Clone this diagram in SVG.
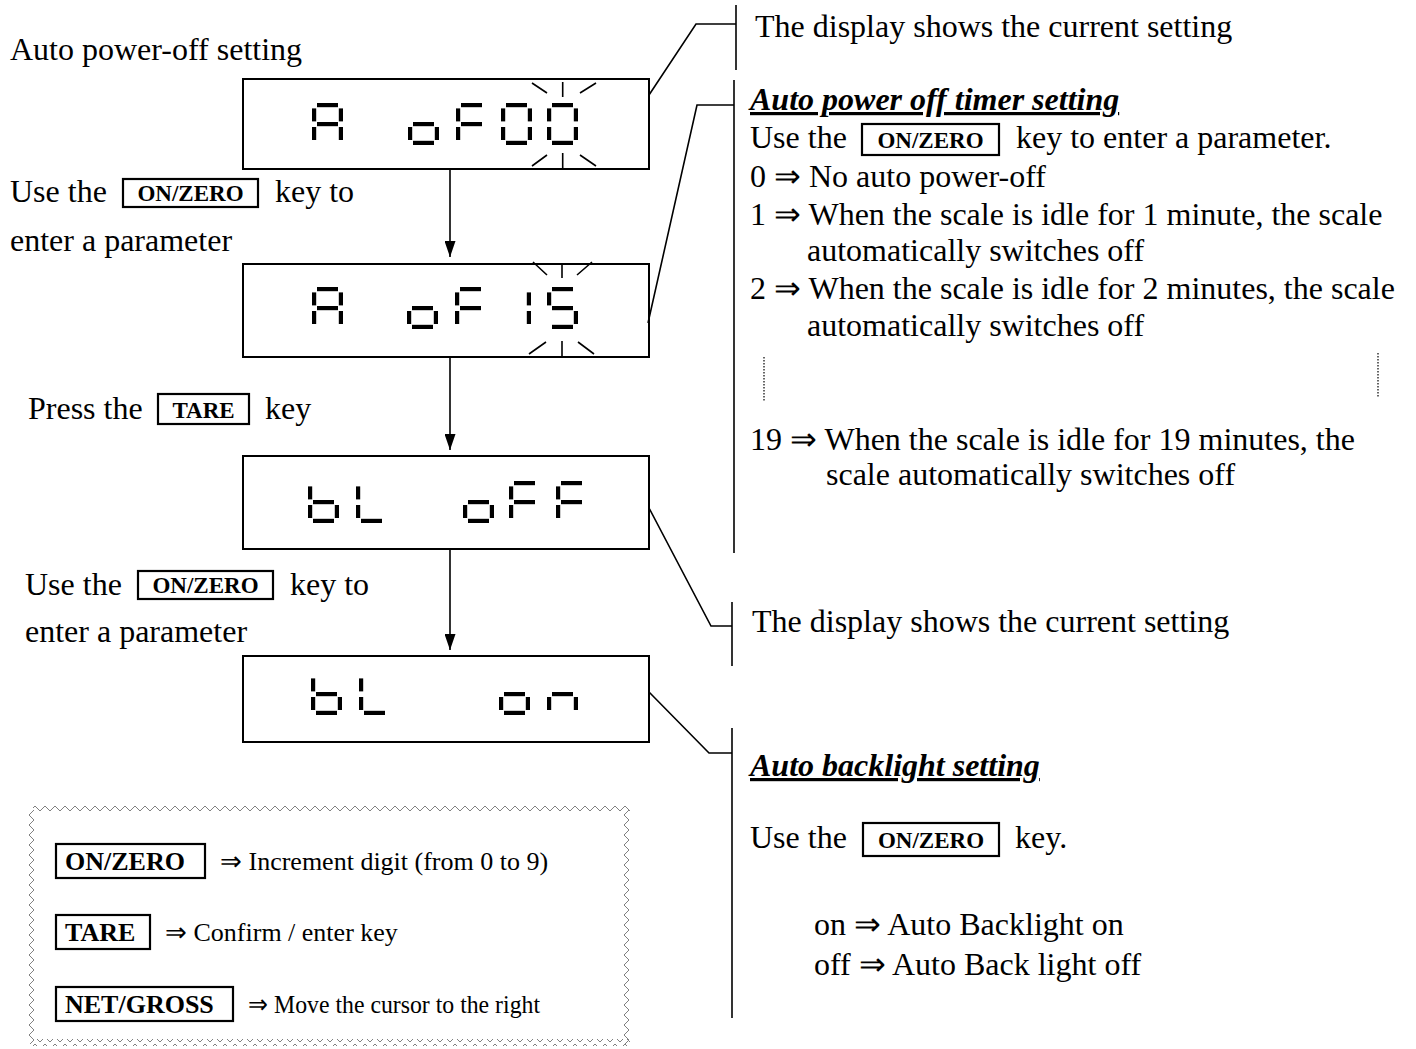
<svg xmlns="http://www.w3.org/2000/svg" xmlns:xlink="http://www.w3.org/1999/xlink" width="1416" height="1049" viewBox="0 0 1416 1049">
<style>
text{font-family:"Liberation Serif","Times New Roman",serif;fill:#000}
.t{font-size:32px}
.k{font-size:23px;font-weight:bold;text-anchor:middle}
.lk{font-size:26px;font-weight:bold}
.ld{font-size:26px}
.h{font-size:32px;font-weight:bold;font-style:italic;text-decoration:underline}
.lcd{fill:#fff;stroke:#000;stroke-width:2}
.kb{fill:#fff;stroke:#000;stroke-width:2.2}
.ray{stroke:#000;stroke-width:1.6;fill:none}
.ln{stroke:#000;stroke-width:1.6;fill:none}
.dot{stroke:#000;stroke-width:1.2;stroke-dasharray:1.5 1.5;fill:none}
</style>
<defs>
<marker id="ah" viewBox="0 0 10 10" refX="10" refY="5" markerWidth="16" markerHeight="11" markerUnits="userSpaceOnUse" orient="auto" preserveAspectRatio="none"><path d="M0,0 L10,5 L0,10 z" fill="#000"/></marker>
<pattern id="zzH" width="10" height="7" patternUnits="userSpaceOnUse"><path d="M0,6 L5,1 L10,6" fill="none" stroke="#808080" stroke-width="1"/></pattern>
<pattern id="zzV" width="7" height="10" patternUnits="userSpaceOnUse"><path d="M6,0 L1,5 L6,10" fill="none" stroke="#808080" stroke-width="1"/></pattern>
<rect id="sa" x="5" y="0" width="21" height="4.2"/>
<rect id="sb" x="26.8" y="5.4" width="4.2" height="13"/>
<rect id="sc" x="26.8" y="24" width="4.2" height="13"/>
<rect id="sd" x="5" y="37.8" width="21" height="4.2"/>
<rect id="se" x="0" y="24" width="4.2" height="13"/>
<rect id="sf" x="0" y="5.4" width="4.2" height="13"/>
<rect id="sg" x="5" y="19" width="21" height="4.2"/>
<g id="gA"><use href="#sa"/><use href="#sb"/><use href="#sc"/><use href="#se"/><use href="#sf"/><use href="#sg"/></g>
<g id="go"><use href="#sc"/><use href="#sd"/><use href="#se"/><use href="#sg"/></g>
<g id="gF"><use href="#sa"/><use href="#se"/><use href="#sf"/><use href="#sg"/></g>
<g id="g0"><use href="#sa"/><use href="#sb"/><use href="#sc"/><use href="#sd"/><use href="#se"/><use href="#sf"/></g>
<g id="g1"><use href="#sb"/><use href="#sc"/></g>
<g id="g5"><use href="#sa"/><use href="#sc"/><use href="#sd"/><use href="#sf"/><use href="#sg"/></g>
<g id="gb"><use href="#sc"/><use href="#sd"/><use href="#se"/><use href="#sf"/><use href="#sg"/></g>
<g id="gL"><use href="#sd"/><use href="#se"/><use href="#sf"/></g>
<g id="gn"><use href="#sc"/><use href="#se"/><use href="#sg"/></g>
</defs>
<rect width="1416" height="1049" fill="#fff"/>

<!-- left texts -->
<g id="lbl-title"><text class="t" x="10" y="60">Auto power-off setting</text></g>
<g id="lbl-step1">
<text class="t" x="10" y="202">Use the</text>
<rect class="kb" x="123" y="179" width="135" height="28"/>
<text class="k" x="190.5" y="201">ON/ZERO</text>
<text class="t" x="275" y="202">key to</text>
<text class="t" x="10" y="251">enter a parameter</text>
</g>
<g id="lbl-step2">
<text class="t" x="28" y="419">Press the</text>
<rect class="kb" x="158" y="394" width="91" height="30"/>
<text class="k" x="203.5" y="418">TARE</text>
<text class="t" x="265" y="419">key</text>
</g>
<g id="lbl-step3">
<text class="t" x="25" y="595">Use the</text>
<rect class="kb" x="138" y="571" width="135" height="28"/>
<text class="k" x="205.5" y="593">ON/ZERO</text>
<text class="t" x="290" y="595">key to</text>
<text class="t" x="25" y="642">enter a parameter</text>
</g>

<!-- LCD displays -->
<g id="lcd1">
<rect class="lcd" x="243" y="79" width="406" height="90"/>
<use href="#gA" x="312" y="103"/><use href="#go" x="408" y="103"/><use href="#gF" x="456" y="103"/><use href="#g0" x="501" y="103"/><use href="#g0" x="547" y="103"/>
<path class="ray" d="M562.7,82 V97 M532,83 L547,93 M580,93 L596,83 M562.7,153 V169 M547,155 L532,166 M580,155 L596,166"/>
</g>
<g id="lcd2">
<rect class="lcd" x="243" y="264" width="406" height="93"/>
<use href="#gA" x="312" y="287"/><use href="#go" x="407" y="287"/><use href="#gF" x="455" y="287"/><use href="#g1" x="500" y="287"/><use href="#g5" x="547" y="287"/>
<path class="ray" d="M562,264 V278 M533,262 L547,275 M577,275 L592,262 M562,341 V357 M546,342 L529,354 M578,342 L594,354"/>
</g>
<g id="lcd3">
<rect class="lcd" x="243" y="456" width="406" height="93"/>
<use href="#gb" x="308" y="481"/><use href="#gL" x="356" y="481"/><use href="#go" x="463" y="481"/><use href="#gF" x="509" y="481"/><use href="#gF" x="556" y="481"/>
</g>
<g id="lcd4">
<rect class="lcd" x="243" y="656" width="406" height="86"/>
<use href="#gb" x="311" y="673"/><use href="#gL" x="359" y="673"/><use href="#go" x="499" y="673"/><use href="#gn" x="547" y="673"/>
</g>

<!-- connectors -->
<g id="connectors">
<line class="ln" x1="450" y1="169" x2="450" y2="257" marker-end="url(#ah)"/>
<line class="ln" x1="450" y1="357" x2="450" y2="450" marker-end="url(#ah)"/>
<line class="ln" x1="450" y1="549" x2="450" y2="650" marker-end="url(#ah)"/>
<polyline class="ln" points="649,95 696,24 736,24"/>
<line class="ln" x1="736" y1="5" x2="736" y2="70"/>
<polyline class="ln" points="648,323 697,105 734,105"/>
<line class="ln" x1="734" y1="80" x2="734" y2="553"/>
<polyline class="ln" points="649,508 711,626 732,626"/>
<line class="ln" x1="732" y1="602" x2="732" y2="666"/>
<polyline class="ln" points="649,692 709,753 732,753"/>
<line class="ln" x1="732" y1="728" x2="732" y2="1018"/>
</g>

<!-- right texts -->
<g id="note1"><text class="t" x="755" y="37">The display shows the current setting</text></g>
<g id="note2">
<text class="h" x="750" y="110">Auto power off timer setting</text>
<text class="t" x="750" y="148">Use the</text>
<rect class="kb" x="862" y="124" width="137" height="31"/>
<text class="k" x="930.5" y="148">ON/ZERO</text>
<text class="t" x="1016" y="148">key to enter a parameter.</text>
<text class="t" x="750" y="187">0 ⇒ No auto power-off</text>
<text class="t" x="750" y="225">1 ⇒ When the scale is idle for 1 minute, the scale</text>
<text class="t" x="807" y="261">automatically switches off</text>
<text class="t" x="750" y="299">2 ⇒ When the scale is idle for 2 minutes, the scale</text>
<text class="t" x="807" y="336">automatically switches off</text>
<line class="dot" x1="764" y1="357" x2="764" y2="402"/>
<line class="dot" x1="1378" y1="353" x2="1378" y2="398"/>
<text class="t" x="750" y="450">19 ⇒ When the scale is idle for 19 minutes, the</text>
<text class="t" x="826" y="485">scale automatically switches off</text>
</g>
<g id="note3"><text class="t" x="752" y="632">The display shows the current setting</text></g>
<g id="note4">
<text class="h" x="750" y="776">Auto backlight setting</text>
<text class="t" x="750" y="848">Use the</text>
<rect class="kb" x="863" y="823" width="136" height="33"/>
<text class="k" x="931" y="848">ON/ZERO</text>
<text class="t" x="1015" y="848">key.</text>
<text class="t" x="814" y="935">on ⇒ Auto Backlight on</text>
<text class="t" x="814" y="975">off ⇒ Auto Back light off</text>
</g>

<!-- legend -->
<g id="legend">
<rect x="33" y="806" width="597" height="7" fill="url(#zzH)"/>
<rect x="33" y="1039" width="597" height="7" fill="url(#zzH)"/>
<rect x="28" y="810" width="7" height="234" fill="url(#zzV)"/>
<rect x="623" y="810" width="7" height="234" fill="url(#zzV)"/>
<rect class="kb" x="56" y="844" width="149" height="34"/>
<text class="lk" x="65" y="870">ON/ZERO</text>
<text class="ld" x="220" y="870">⇒ Increment digit (from 0 to 9)</text>
<rect class="kb" x="56" y="915" width="94" height="34"/>
<text class="lk" x="65" y="941">TARE</text>
<text class="ld" x="165" y="941">⇒ Confirm / enter key</text>
<rect class="kb" x="56" y="987" width="177" height="34"/>
<text class="lk" x="65" y="1013">NET/GROSS</text>
<text class="ld" x="248" y="1013" textLength="292" lengthAdjust="spacingAndGlyphs">⇒ Move the cursor to the right</text>
</g>
</svg>
